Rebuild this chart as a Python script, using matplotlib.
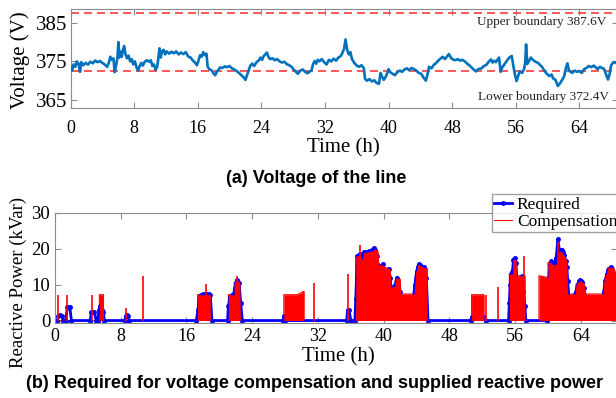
import numpy as np
import matplotlib
matplotlib.use('Agg')
import matplotlib.pyplot as plt

plt.rcParams['font.family'] = ['Liberation Serif', 'DejaVu Serif']

# ---- data: line voltage (h, V)
volt_t = [0.0, 0.2, 0.4, 0.6, 0.8, 1.0, 1.2, 1.35, 1.6, 1.9, 2.2, 2.5, 2.8, 3.1, 3.4, 3.7, 4.0, 4.3, 4.6, 4.8,
          5.0, 5.2, 5.4, 5.55, 5.7, 5.9, 6.03, 6.15, 6.3, 6.45, 6.6, 6.75, 6.9, 7.1, 7.3, 7.5, 7.7, 7.9, 8.1, 8.3,
          8.5, 8.7, 8.9, 9.1, 9.3, 9.6, 9.9, 10.1, 10.3, 10.5, 10.7, 10.9, 11.0, 11.2, 11.35, 11.5, 11.7, 11.9, 12.1, 12.4,
          12.7, 13.0, 13.3, 13.6, 13.9, 14.2, 14.5, 14.8, 15.1, 15.4, 15.7, 15.9, 16.1, 16.3, 16.5, 16.7, 16.9, 17.1, 17.25, 17.5,
          17.8, 18.0, 18.2, 18.4, 18.6, 18.8, 19.1, 19.4, 19.7, 20.0, 20.3, 20.6, 20.9, 21.2, 21.5, 21.8, 22.0, 22.2, 22.4, 22.6,
          22.85, 23.1, 23.4, 23.7, 23.9, 24.1, 24.3, 24.5, 24.7, 24.9, 25.1, 25.4, 25.7, 26.0, 26.3, 26.6, 26.9, 27.2, 27.5, 27.8,
          28.1, 28.4, 28.6, 28.9, 29.2, 29.5, 29.8, 30.1, 30.3, 30.5, 30.7, 30.9, 31.1, 31.3, 31.6, 31.9, 32.2, 32.5, 32.8, 33.1,
          33.4, 33.7, 34.0, 34.2, 34.4, 34.6, 34.8, 35.0, 35.2, 35.4, 35.7, 36.0, 36.3, 36.6, 36.9, 37.05, 37.3, 37.6, 37.9, 38.2,
          38.5, 38.8, 39.0, 39.2, 39.4, 39.7, 40.0, 40.2, 40.5, 40.8, 41.1, 41.4, 41.7, 42.0, 42.3, 42.6, 42.9, 43.2, 43.5, 43.8,
          44.1, 44.4, 44.7, 44.9, 45.1, 45.4, 45.7, 46.0, 46.3, 46.6, 46.8, 47.1, 47.4, 47.6, 47.9, 48.1, 48.4, 48.7, 49.0, 49.3,
          49.6, 49.9, 50.2, 50.4, 50.7, 51.0, 51.3, 51.7, 52.0, 52.3, 52.6, 52.9, 53.1, 53.3, 53.5, 53.7, 53.9, 54.1, 54.3, 54.6,
          54.9, 55.2, 55.5, 55.7, 55.9, 56.1, 56.3, 56.5, 56.8, 57.05, 57.2, 57.3, 57.45, 57.7, 57.9, 58.2, 58.5, 58.8, 59.1, 59.3,
          59.6, 59.9, 60.2, 60.5, 60.7, 61.0, 61.3, 61.6, 61.9, 62.1, 62.3, 62.5, 62.7, 62.9, 63.1, 63.4, 63.7, 64.0, 64.3, 64.6,
          64.9, 65.2, 65.5, 65.8, 66.1, 66.3, 66.6, 66.9, 67.1, 67.3, 67.6, 67.8, 68.0, 68.3, 68.6, 68.8]
volt_v = [373.5, 372.6, 374.2, 373.6, 375.0, 374.4, 372.3, 374.8, 374.0, 374.6, 374.2, 374.9, 374.5, 375.2, 374.8, 375.1, 374.6, 374.2, 373.6, 374.5,
          376.2, 375.4, 375.8, 372.2, 373.5, 376.0, 380.0, 376.0, 377.5, 376.2, 378.0, 379.0, 377.0, 375.8, 376.5, 375.0, 375.6, 374.2, 375.0, 373.5,
          372.6, 373.8, 374.6, 373.9, 374.8, 375.3, 374.9, 375.3, 373.8, 374.2, 372.8, 373.6, 375.0, 378.4, 376.0, 377.6, 378.0, 376.8, 377.6, 377.0,
          377.5, 377.1, 377.6, 376.8, 377.3, 376.9, 377.4, 376.3, 376.0, 375.2, 374.6, 374.0, 375.2, 376.6, 376.2, 377.4, 376.6, 377.0, 373.6, 372.9,
          372.6, 371.8, 371.4, 372.3, 372.8, 373.4, 373.3, 373.7, 373.5, 373.8, 373.2, 372.9, 372.5, 372.0, 371.4, 370.8, 370.2, 371.4, 372.6, 373.8,
          374.4, 373.8, 374.8, 375.3, 376.0, 375.4, 376.4, 376.8, 377.3, 376.2, 375.6, 375.8, 375.3, 375.6, 375.0, 374.7, 374.9, 374.3, 374.0, 373.6,
          372.8, 372.2, 371.8, 372.6, 372.9, 372.3, 371.9, 372.4, 372.6, 374.2, 375.1, 374.4, 375.4, 375.0, 375.6, 374.8, 374.2, 375.4, 375.0, 375.7,
          375.2, 376.0, 376.4, 377.2, 378.2, 380.7, 378.0, 376.8, 377.4, 375.6, 374.6, 373.9, 373.6, 374.0, 373.2, 370.4, 370.0, 370.4, 369.8, 370.1,
          369.4, 369.2, 372.0, 371.0, 370.2, 371.2, 373.0, 372.2, 371.8, 371.4, 372.2, 372.6, 372.3, 372.9, 373.2, 372.7, 373.3, 373.0, 372.6, 372.0,
          371.8, 370.8, 370.0, 371.6, 373.6, 373.2, 374.1, 374.6, 375.3, 375.8, 376.2, 375.6, 376.4, 376.9, 375.8, 375.5, 375.3, 375.6, 375.2, 375.4,
          375.0, 374.4, 373.9, 373.5, 372.9, 372.4, 373.0, 373.2, 373.8, 374.1, 374.9, 375.5, 374.7, 375.2, 374.8, 375.4, 376.0, 372.3, 373.4, 374.3,
          375.2, 376.0, 376.4, 373.8, 371.6, 369.9, 371.2, 372.4, 372.0, 373.0, 374.8, 379.4, 374.3, 375.2, 376.0, 375.3, 374.9, 374.6, 374.0, 373.6,
          372.6, 371.8, 371.2, 371.6, 370.6, 370.2, 368.6, 369.4, 370.4, 371.2, 373.2, 374.5, 372.6, 372.3, 372.0, 372.6, 372.3, 372.5, 372.0, 373.0,
          373.3, 373.8, 373.5, 373.9, 373.4, 373.0, 373.6, 373.2, 373.1, 372.0, 370.3, 371.6, 374.0, 374.8, 374.6, 375.0]
bound_v = [387.6, 372.4]
bound_txt = ['Upper boundary 387.6V', 'Lower boundary 372.4V']

# ---- data: required reactive power (h, kVar)
req_t = [0.0, 0.3, 0.4, 0.6, 0.8, 1.0, 1.3, 1.5, 1.65, 1.8, 2.0, 4.3, 4.4, 4.6, 4.8, 5.0, 5.2, 5.35, 5.5, 5.6,
         5.75, 5.9, 6.0, 8.5, 8.6, 8.75, 8.9, 9.0, 17.2, 17.4, 17.6, 17.8, 18.0, 18.2, 18.5, 18.7, 18.9, 19.1, 21.0, 21.1,
         21.3, 21.5, 21.7, 21.9, 22.0, 22.1, 22.2, 22.3, 22.4, 22.6, 22.8, 27.8, 27.85, 28.0, 35.5, 35.6, 35.7, 35.8, 36.0, 36.5,
         36.6, 36.7, 36.8, 36.95, 37.1, 37.3, 37.45, 37.6, 37.8, 38.0, 38.2, 38.4, 38.6, 38.8, 39.0, 39.2, 39.3, 39.45, 39.6, 39.75,
         39.9, 40.05, 40.2, 40.4, 40.6, 40.8, 40.9, 41.2, 41.4, 41.6, 41.8, 42.0, 42.2, 42.4, 43.6, 43.8, 44.0, 44.15, 44.3, 44.45,
         44.6, 44.75, 44.9, 45.2, 45.4, 50.6, 50.7, 52.2, 52.4, 55.2, 55.3, 55.4, 55.5, 55.6, 55.7, 55.8, 55.9, 56.0, 56.1, 56.2,
         56.4, 56.6, 56.8, 57.0, 57.2, 57.3, 59.9, 60.0, 60.1, 60.2, 60.3, 60.4, 60.55, 60.7, 60.85, 61.0, 61.2, 61.4, 61.55, 61.7,
         61.85, 62.0, 62.15, 62.3, 62.4, 62.6, 63.4, 63.6, 63.75, 63.9, 64.05, 64.2, 64.4, 64.6, 66.6, 66.8, 67.0, 67.2, 67.35, 67.5,
         67.7, 67.85, 68.0, 68.2, 68.4]
req_v = [0.0, 0.0, 1.4, 1.5, 1.4, 0.0, 0.0, 3.7, 3.9, 3.7, 0.0, 0.0, 2.3, 2.4, 2.3, 0.0, 0.0, 3.0, 4.0, 3.5,
         3.0, 2.5, 0.0, 0.0, 1.4, 1.5, 1.4, 0.0, 0.0, 3.0, 6.8, 7.2, 7.3, 7.4, 7.5, 7.3, 7.2, 0.0, 0.0, 4.0,
         6.5, 7.0, 7.2, 9.0, 10.5, 11.2, 11.0, 10.8, 10.6, 5.0, 0.0, 0.0, 1.2, 0.0, 0.0, 2.8, 2.9, 2.8, 0.0, 0.0,
         6.0, 12.0, 18.0, 18.4, 18.5, 17.2, 18.0, 19.2, 19.0, 19.0, 19.3, 19.5, 19.8, 20.2, 19.8, 18.0, 15.5, 14.0, 13.0, 14.5,
         15.8, 14.2, 13.0, 11.0, 14.5, 12.0, 9.3, 8.0, 10.0, 12.0, 10.0, 8.0, 3.0, 6.0, 6.0, 10.0, 13.5, 15.0, 15.8, 15.6,
         15.0, 14.9, 14.8, 12.0, 0.0, 0.0, 1.0, 1.0, 0.0, 0.0, 5.0, 10.0, 13.0, 13.5, 14.0, 17.0, 17.3, 17.5, 16.0, 12.0,
         9.5, 10.0, 12.3, 8.0, 4.0, 0.0, 0.0, 9.0, 12.0, 14.0, 15.5, 16.5, 16.0, 15.3, 16.2, 17.5, 22.7, 19.5, 19.8, 19.8,
         19.0, 18.2, 16.5, 15.0, 11.0, 5.0, 8.0, 10.0, 11.0, 11.3, 11.1, 10.8, 9.0, 5.0, 5.0, 8.0, 11.0, 13.0, 14.0, 14.5,
         15.0, 14.2, 13.0, 11.5, 10.0]

# ---- data: supplied compensation envelope (h, kVar) and single switching spikes
comp_t = [0.0, 5.4, 5.4, 5.9, 5.9, 17.35, 17.35, 18.9, 18.9, 21.1, 21.1, 21.8, 21.8, 22.1, 22.5, 22.55, 27.85, 27.85, 29.5, 30.3,
          30.3, 36.6, 36.6, 37.2, 37.4, 37.6, 38.5, 39.0, 39.3, 39.4, 40.0, 40.1, 40.8, 40.9, 41.3, 41.5, 42.0, 42.1, 43.7, 43.9,
          44.2, 44.9, 45.3, 45.3, 50.7, 50.7, 52.2, 52.2, 55.3, 55.3, 55.7, 55.7, 56.1, 56.2, 57.2, 57.2, 58.9, 58.9, 60.0, 60.0,
          60.4, 60.5, 61.0, 61.2, 61.6, 62.0, 62.3, 62.4, 63.3, 63.4, 63.8, 64.4, 64.6, 66.7, 66.8, 67.3, 68.0, 68.4]
comp_v = [0.0, 0.0, 7.2, 7.2, 0.0, 0.0, 7.2, 7.2, 0.0, 0.0, 7.2, 7.2, 10.5, 11.2, 10.8, 0.0, 0.0, 7.2, 7.2, 8.2,
          0.0, 0.0, 18.0, 18.2, 17.0, 19.0, 19.3, 20.0, 19.2, 15.5, 15.5, 14.8, 14.5, 9.3, 9.5, 12.0, 11.6, 7.4, 7.4, 13.5,
          15.7, 14.8, 14.5, 0.0, 0.0, 7.2, 7.2, 0.0, 0.0, 13.0, 13.0, 17.0, 17.1, 12.5, 12.5, 0.0, 0.0, 12.5, 12.0, 16.2,
          16.2, 15.7, 15.5, 19.0, 19.4, 18.0, 16.7, 7.4, 7.4, 10.0, 11.1, 10.5, 7.4, 7.4, 11.0, 14.8, 14.8, 12.0]
spike_t = [0.4, 1.4, 4.5, 8.65, 10.65, 18.4, 22.2, 31.5, 35.7, 37.1, 52.5, 53.9, 57.1, 61.2]
spike_v = [7.2, 7.2, 7.2, 3.4, 12.5, 10.2, 12.5, 10.4, 13.0, 21.1, 7.2, 9.3, 18.0, 22.0]

W, H = 616, 398
fig = plt.figure(figsize=(W / 100, H / 100), dpi=100)
spine_c = '#8c8c8c'


def px(x, y):
    # pixel position (from top-left) -> figure fraction
    return x / W, 1 - y / H


# (a) voltage
ax1 = fig.add_axes([70.5 / W, 1 - 108 / H, 547 / W, 99 / H])
ax1.plot(volt_t, volt_v, color='#0072BD', lw=1.9, zorder=3)
for v in bound_v:
    ax1.axhline(v, color='#ff3b3b', lw=1.2, ls=(0, (4.8, 3)), zorder=2)
fig.text(*px(606, 22), bound_txt[0], fontsize=9.5, ha='right', va='center', color='#222222')
fig.text(*px(609, 97), bound_txt[1], fontsize=9.5, ha='right', va='center', color='#222222')
ax1.set_xlim(0, 68.8)
ax1.set_ylim(362.9, 388.6)
ax1.set_xticks(np.arange(0, 65, 8))
ax1.set_yticks([365, 375, 385])
ax1.tick_params(axis='x', direction='in', top=True, length=4, color=spine_c, labelsize=13, pad=8.5)
ax1.tick_params(axis='y', direction='in', right=True, length=4, color=spine_c, labelsize=15, pad=2.5)
for s in ax1.spines.values():
    s.set_color(spine_c)
ax1.spines['right'].set_visible(False)

# (b) reactive power
ax2 = fig.add_axes([55 / W, 1 - 323.4 / H, 562 / W, 110.4 / H])
ax2.plot(comp_t, comp_v, color='#ff0000', lw=0.8, label='Compensation', zorder=1)
ax2.plot(req_t, req_v, color='#0000ff', lw=2.0, marker='.', ms=5, label='Required', zorder=2)
ax2.fill_between(comp_t, 0, comp_v, color='#ff0000', lw=0, zorder=3)
ax2.vlines(spike_t, 0, spike_v, color='#ff0000', lw=1.2, zorder=3)
ax2.set_xlim(0, 68.4)
ax2.set_ylim(-0.8, 30)
ax2.set_xticks(np.arange(0, 65, 8))
ax2.set_yticks([0, 10, 20, 30])
ax2.tick_params(axis='x', direction='in', top=True, length=4, color=spine_c, labelsize=13, pad=3.5)
ax2.tick_params(axis='y', direction='in', right=True, length=4, color=spine_c, labelsize=13.5, pad=3.5)
for s in ax2.spines.values():
    s.set_color(spine_c)
ax2.spines['right'].set_visible(False)
handles, labels = ax2.get_legend_handles_labels()
leg = ax2.legend(handles[::-1], labels[::-1], loc='upper right', bbox_to_anchor=(620 / W, 1 - 194 / H),
                 bbox_transform=fig.transFigure, fontsize=12.5, frameon=True, fancybox=False,
                 edgecolor='#888888', borderaxespad=0, handlelength=1.0, handletextpad=0.3,
                 borderpad=0.15, labelspacing=0.05)
leg.get_frame().set_linewidth(1.0)

# axis labels and captions
fig.text(*px(343, 148), 'Time (h)', fontsize=15, ha='center', va='center')
fig.text(*px(20.5, 60), 'Voltage (V)', fontsize=15, rotation=90, ha='center', va='center')
fig.text(*px(338, 357), 'Time (h)', fontsize=15, ha='center', va='center')
fig.text(*px(18, 282), 'Reactive Power (kVar)', fontsize=13.5, rotation=90, ha='center', va='center')
fig.text(*px(316, 178), '(a) Voltage of the line', fontsize=13, fontweight='bold',
         family='Liberation Sans', ha='center', va='center')
fig.text(*px(315, 384), '(b) Required for voltage compensation and supplied reactive power', fontsize=13,
         fontweight='bold', family='Liberation Sans', ha='center', va='center')

fig.savefig('out.png', dpi=100)
